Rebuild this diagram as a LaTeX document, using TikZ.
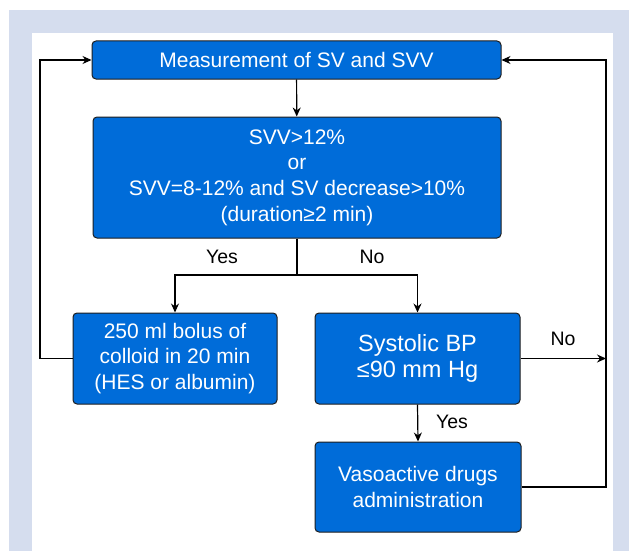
\documentclass[tikz,border=0pt]{standalone}
\usepackage{fontspec}
\setmainfont{Liberation Sans}
\usetikzlibrary{arrows.meta}
\definecolor{boxblue}{RGB}{0,108,217}
\definecolor{framebg}{RGB}{213,221,238}
\definecolor{edge}{RGB}{30,30,30}
\tikzset{
  box/.style={draw=edge, line width=1pt, fill=boxblue, rounded corners=4pt, text=white, align=center,
    font=\fontsize{21}{25.6}\selectfont, inner sep=0pt},
  conn/.style={line width=1.2pt, draw=black},
  arr/.style={conn, -{Stealth[length=9pt,width=8pt]}},
  lbl/.style={font=\fontsize{19.5}{23}\selectfont, text=black, inner sep=0pt}
}
\begin{document}
\begin{tikzpicture}[x=1pt,y=-1pt]
\useasboundingbox (0,0) rectangle (629,551);
\fill[framebg] (9,10) rectangle (629,551);
\fill[white] (32,33) rectangle (613,551);

\node[box, minimum width=409pt, minimum height=38pt] (b1) at (296.5,60) {Measurement of SV and SVV};
\node[box, minimum width=408pt, minimum height=121pt] (b2) at (297,177.5) {SVV>12\%\\or\\SVV=8-12\% and SV decrease>10\%\\(duration≥2 min)};
\node[box, minimum width=204pt, minimum height=91pt] (b3) at (175,358.5) {250 ml bolus of\\colloid in 20 min\\(HES or albumin)};
\node[box, minimum width=205pt, minimum height=91pt, font=\fontsize{23.5}{26}\selectfont] (b4) at (417.5,358.5) {Systolic BP\\≤90 mm Hg};
\node[box, minimum width=206pt, minimum height=90pt] (b5) at (418,487) {Vasoactive drugs\\administration};

\coordinate (split) at (297,275);
\coordinate (rmid) at (606,358.5);
\coordinate (rbot) at (606,487);
\coordinate (rtop) at (606,60);
\coordinate (lbot) at (40,358.5);
\coordinate (ltop) at (40,60);

\draw[arr] (b1) -- (b2);
\draw[conn] (b2.south) -- (split);
\draw[arr] (split) -| (b3.north);
\draw[arr] (split) -| (b4.north);
\draw[arr] (b4.east) -- (rmid);
\draw[arr] (b4.south) -- (b5.north);
\draw[arr] (b5.east) -- (rbot) -- (rtop) -- (b1.east);
\draw[arr] (b3.west) -- (lbot) -- (ltop) -- (b1.west);

\node[lbl] (yes1) at (222,257) {Yes};
\node[lbl] (no1) at (372,257) {No};
\node[lbl] (no2) at (563,339) {No};
\node[lbl] (yes2) at (452,422) {Yes};
\end{tikzpicture}
\end{document}
